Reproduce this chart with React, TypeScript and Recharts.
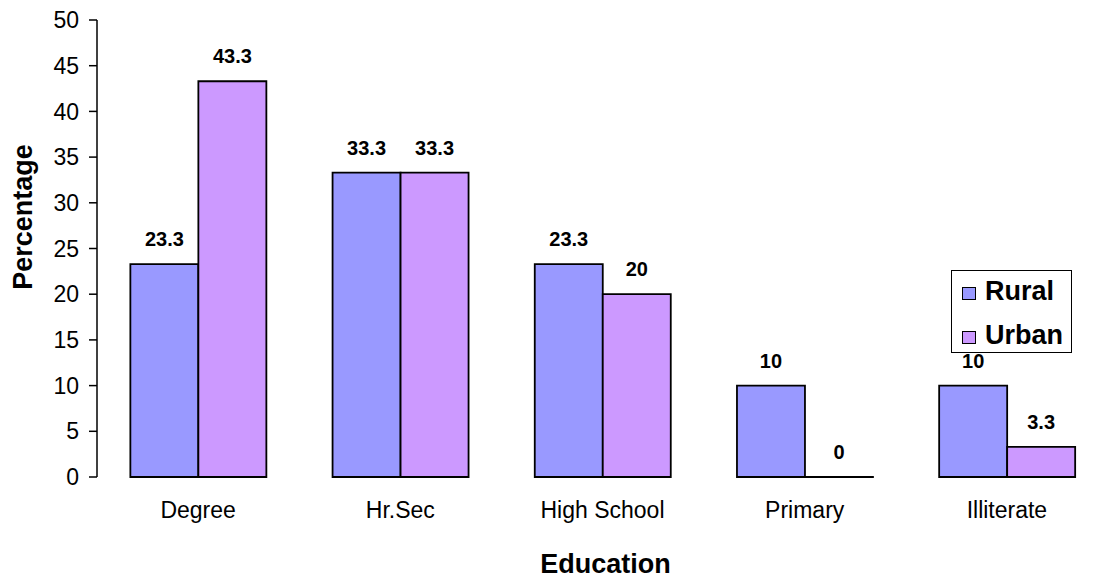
import { BarChart, Bar, XAxis, YAxis, Legend, LabelList } from "recharts";

const categories = ["Degree", "Hr.Sec", "High School", "Primary", "Illiterate"];
const rural = [23.3, 33.3, 23.3, 10, 10];
const urban = [43.3, 33.3, 20, 0, 3.3];
const yTicks = [0, 5, 10, 15, 20, 25, 30, 35, 40, 45, 50];
// band boundaries, used for the tick marks between categories
const bandEdges = [0, 1, 2, 3, 4, 5];

const data = categories.map((name, i) => ({
	name,
	Rural: rural[i],
	Urban: urban[i],
}));

const FONT = '"Liberation Sans", Arial, sans-serif';
const RURAL_COLOR = "#9999FF";
const URBAN_COLOR = "#CC99FF";

// keep zero-valued bars in the layout so their "0" label still shows
const keepZero = (value: any) => (value === 0 ? 0.01 : 0);

const YTitle = (props: any) => {
	const { viewBox } = props;
	const x = viewBox.x + 32;
	const y = viewBox.y + 197;
	return (
		<text
			x={x}
			y={y}
			transform={`rotate(-90 ${x} ${y})`}
			textAnchor="middle"
			fontFamily={FONT}
			fontSize={27}
			fontWeight="bold"
			fill="#000"
		>
			Percentage
		</text>
	);
};

const XTitle = (props: any) => {
	const { viewBox } = props;
	return (
		<text
			x={viewBox.x + viewBox.width / 2 + 3}
			y={viewBox.y + 96}
			textAnchor="middle"
			fontFamily={FONT}
			fontSize={27}
			fontWeight="bold"
			fill="#000"
		>
			Education
		</text>
	);
};

const LegendBox = (props: any) => {
	const { payload = [] } = props;
	return (
		<div
			style={{
				position: "relative",
				width: 121,
				height: 83,
				boxSizing: "border-box",
				border: "1px solid #000",
				background: "#fff",
				fontFamily: FONT,
			}}
		>
			{payload.map((entry: any, i: number) => (
				<div key={entry.value}>
					<span
						style={{
							position: "absolute",
							left: 10,
							top: 16 + i * 44,
							width: 12,
							height: 11,
							background: entry.color,
							border: "1px solid #000",
						}}
					/>
					<span
						style={{
							position: "absolute",
							left: 33,
							top: 7 + i * 44,
							fontSize: 27,
							lineHeight: "27px",
							fontWeight: "bold",
							color: "#000",
							whiteSpace: "nowrap",
						}}
					>
						{entry.value}
					</span>
				</div>
			))}
		</div>
	);
};

const App = () => {
	return (
		<div
			style={{
				position: "absolute",
				left: 0,
				top: 0,
				width: 1103,
				height: 580,
				overflow: "hidden",
				background: "#fff",
			}}
		>
			<BarChart
				width={1120}
				height={580}
				data={data}
				margin={{ top: 20, right: 12, bottom: 0, left: 0 }}
				barCategoryGap="16.5%"
				barGap={0}
			>
				<XAxis
					xAxisId="edges"
					type="number"
					domain={[0, 5]}
					ticks={bandEdges}
					allowDataOverflow
					height={0}
					tick={false}
					tickSize={8}
					tickLine={{ stroke: "#000", strokeWidth: 1.5 }}
					axisLine={{ stroke: "#000", strokeWidth: 1.5 }}
				/>
				<XAxis
					dataKey="name"
					height={103}
					axisLine={false}
					tickLine={false}
					tickSize={0}
					tickMargin={25}
					interval={0}
					tick={{ fill: "#000", fontSize: 23, fontFamily: FONT }}
					label={{ content: XTitle }}
				/>
				<YAxis
					width={97}
					domain={[0, 50]}
					ticks={yTicks}
					interval={0}
					tickSize={8}
					tickMargin={10}
					axisLine={{ stroke: "#000", strokeWidth: 1.5 }}
					tickLine={{ stroke: "#000", strokeWidth: 1.5 }}
					tick={{ fill: "#000", fontSize: 23, fontFamily: FONT }}
					label={{ content: YTitle }}
				/>
				<Legend
					layout="vertical"
					align="center"
					verticalAlign="middle"
					wrapperStyle={{ left: 951, top: 270, width: 121, height: 83 }}
					content={<LegendBox />}
				/>
				<Bar
					dataKey="Rural"
					fill={RURAL_COLOR}
					stroke="#000"
					strokeWidth={1.8}
					minPointSize={keepZero}
					isAnimationActive={false}
				>
					<LabelList
						dataKey="Rural"
						position="top"
						offset={18}
						fill="#000"
						fontSize={20}
						fontWeight="bold"
						fontFamily={FONT}
					/>
				</Bar>
				<Bar
					dataKey="Urban"
					fill={URBAN_COLOR}
					stroke="#000"
					strokeWidth={1.8}
					minPointSize={keepZero}
					isAnimationActive={false}
				>
					<LabelList
						dataKey="Urban"
						position="top"
						offset={18}
						fill="#000"
						fontSize={20}
						fontWeight="bold"
						fontFamily={FONT}
					/>
				</Bar>
			</BarChart>
		</div>
	);
};

export default App;
